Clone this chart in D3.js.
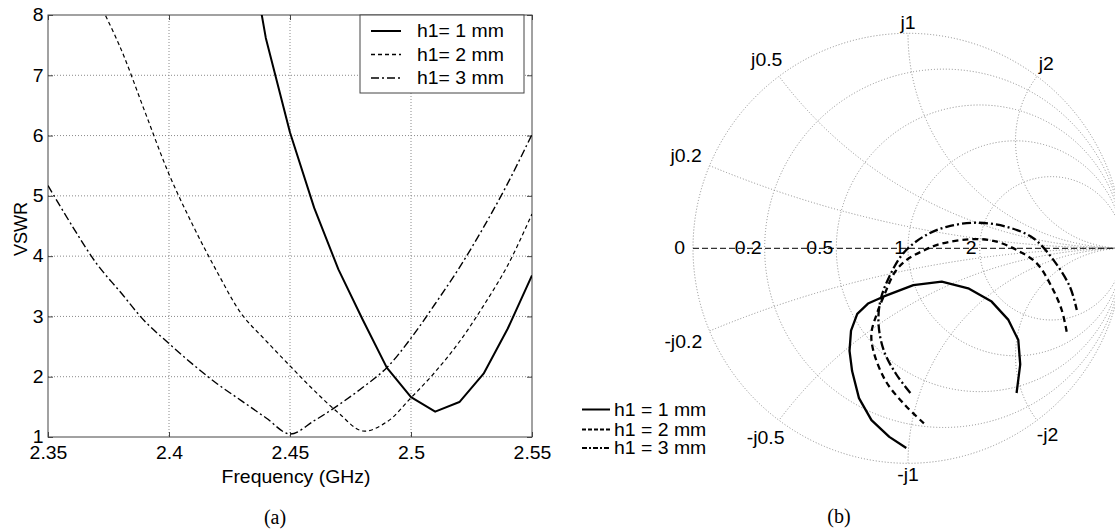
<!DOCTYPE html>
<html><head><meta charset="utf-8">
<script src="https://cdn.jsdelivr.net/npm/d3@7"></script>
<style>
body{margin:0;background:#fff}
svg{display:block}
text{font-family:Arial,"Liberation Sans",Helvetica,sans-serif;fill:#000}
</style>
</head><body>
<svg id="c" width="1115" height="529"></svg>
<script>
// ---------- DATA ----------
const freqH1 = [2.43,2.44,2.45,2.46,2.47,2.48,2.49,2.50,2.51,2.52,2.53,2.54,2.55];
const vswrH1 = [9.9,7.62,6.05,4.8,3.78,2.95,2.15,1.66,1.42,1.58,2.05,2.8,3.68];
const freqH2 = [2.37,2.38,2.39,2.40,2.41,2.42,2.43,2.44,2.45,2.46,2.47,2.48,2.49,2.50,2.51,2.52,2.53,2.54,2.55];
const vswrH2 = [8.3,7.45,6.4,5.36,4.5,3.73,3.04,2.6,2.18,1.77,1.4,1.1,1.25,1.65,2.08,2.58,3.18,3.85,4.70];
const freqH3 = [2.35,2.36,2.37,2.38,2.39,2.40,2.41,2.42,2.43,2.44,2.45,2.46,2.47,2.48,2.49,2.50,2.51,2.52,2.53,2.54,2.55];
const vswrH3 = [5.17,4.5,3.88,3.4,2.92,2.55,2.2,1.88,1.6,1.32,1.05,1.27,1.53,1.82,2.15,2.64,3.21,3.81,4.48,5.21,6.02];

const xTicks = [2.35,2.4,2.45,2.5,2.55];
const yTicks = [1,2,3,4,5,6,7,8];
const legendA = ["h1= 1 mm","h1= 2 mm","h1= 3 mm"];
const legendB = ["h1 = 1 mm","h1 = 2 mm","h1 = 3 mm"];

// reflection coefficient traces (real / imaginary parts)
const gRe1 = [-0.008,-0.087,-0.170,-0.228,-0.260,-0.272,-0.265,-0.236,-0.186,-0.115,0.025,0.157,0.280,0.389,0.467,0.513,0.522,0.505];
const gIm1 = [-0.929,-0.877,-0.799,-0.697,-0.571,-0.477,-0.383,-0.305,-0.257,-0.225,-0.171,-0.155,-0.186,-0.248,-0.333,-0.427,-0.540,-0.673];
const gRe2 = [0.074,-0.014,-0.104,-0.161,-0.170,-0.144,-0.107,-0.060,-0.006,0.071,0.149,0.288,0.397,0.506,0.599,0.668,0.715,0.738];
const gIm2 = [-0.814,-0.729,-0.617,-0.477,-0.394,-0.302,-0.209,-0.109,-0.054,-0.011,0.020,0.042,0.035,-0.008,-0.070,-0.179,-0.287,-0.388];
const gRe3 = [0.011,-0.054,-0.112,-0.137,-0.128,-0.087,-0.022,0.071,0.180,0.320,0.459,0.583,0.676,0.753,0.785];
const gIm3 = [-0.673,-0.587,-0.477,-0.352,-0.242,-0.132,-0.023,0.054,0.100,0.119,0.100,0.047,-0.054,-0.179,-0.287];

const resistanceGrid = [0.2,0.5,1,2];
const reactanceGrid = [0.2,0.5,1,2];
const realAxisLabels = [0,0.2,0.5,1,2];

// ---------- SETUP ----------
const svg = d3.select('#c');
const SX = 1.08, FS = 18;
const styleA = [
  {w:2, dash:null, curve:d3.curveLinear},
  {w:1.2, dash:"4,3", curve:d3.curveCatmullRom},
  {w:1.4, dash:"8,3,2,3", curve:d3.curveCatmullRom}
];
const styleB = [
  {w:2.3, dash:null},
  {w:2.3, dash:"6,4"},
  {w:2.3, dash:"9,3,2,3"}
];

function stext(parent, x, y, s, anchor, opts) {
  opts = opts || {};
  const g = parent.append('g').attr('transform', `translate(${x},${y}) scale(${opts.sx||SX},1)`);
  const t = g.append('text').text(s)
    .attr('text-anchor', anchor || 'start')
    .attr('dominant-baseline', 'central')
    .attr('font-size', opts.fs || FS);
  if (opts.family) t.style('font-family', opts.family);
  return t;
}

// ---------- PANEL (a) ----------
const P = {x0:48, x1:532, y0:15, y1:437};
const x = d3.scaleLinear().domain([2.35,2.55]).range([P.x0,P.x1]);
const y = d3.scaleLinear().domain([1,8]).range([P.y1,P.y0]);
const A = svg.append('g');

A.append('defs').append('clipPath').attr('id','clipA')
  .append('rect').attr('x',P.x0).attr('y',P.y0).attr('width',P.x1-P.x0).attr('height',P.y1-P.y0);

A.append('g').selectAll('line').data(xTicks.slice(1,-1)).join('line')
  .attr('x1',d=>x(d)).attr('x2',d=>x(d)).attr('y1',P.y0).attr('y2',P.y1)
  .attr('stroke','#8a8a8a').attr('stroke-width',1).attr('stroke-dasharray','1,2');
A.append('g').selectAll('line').data(yTicks.slice(1,-1)).join('line')
  .attr('y1',d=>y(d)).attr('y2',d=>y(d)).attr('x1',P.x0).attr('x2',P.x1)
  .attr('stroke','#8a8a8a').attr('stroke-width',1).attr('stroke-dasharray','1,2');

function styleAxis(g, labels) {
  g.attr('font-size',null).attr('font-family',null);
  g.select('.domain').remove();
  g.selectAll('line').attr('stroke','#444');
  if (labels) g.selectAll('text').attr('font-size',FS).attr('transform',`scale(${SX},1)`);
  else g.selectAll('text').remove();
}
styleAxis(A.append('g').attr('transform',`translate(${P.x0},0)`)
  .call(d3.axisLeft(y).tickValues(yTicks).tickFormat(d3.format('d')).tickSizeInner(-5).tickSizeOuter(0).tickPadding(4)), true);
styleAxis(A.append('g').attr('transform',`translate(0,${P.y1})`)
  .call(d3.axisBottom(x).tickValues(xTicks).tickFormat(d=>String(d)).tickSizeInner(-5).tickSizeOuter(0).tickPadding(9)), true);
styleAxis(A.append('g').attr('transform',`translate(${P.x1},0)`)
  .call(d3.axisRight(y).tickValues(yTicks).tickSizeInner(-5).tickSizeOuter(0)), false);
styleAxis(A.append('g').attr('transform',`translate(0,${P.y0})`)
  .call(d3.axisTop(x).tickValues(xTicks).tickSizeInner(-5).tickSizeOuter(0)), false);

A.append('rect').attr('x',P.x0).attr('y',P.y0).attr('width',P.x1-P.x0).attr('height',P.y1-P.y0)
  .attr('fill','none').attr('stroke','#444').attr('stroke-width',1);

const seriesA = [[freqH1,vswrH1],[freqH2,vswrH2],[freqH3,vswrH3]];
const curvesA = A.append('g').attr('clip-path','url(#clipA)');
seriesA.forEach((s,i)=>{
  const pts = s[0].map((f,k)=>[f,s[1][k]]);
  const line = d3.line().x(d=>x(d[0])).y(d=>y(d[1])).curve(styleA[i].curve);
  curvesA.append('path').attr('d', line(pts))
    .attr('fill','none').attr('stroke','#000').attr('stroke-width',styleA[i].w)
    .attr('stroke-dasharray',styleA[i].dash).attr('stroke-linejoin','round');
});

// legend (a)
const LA = {x:360, y:15, w:164, h:78};
A.append('rect').attr('x',LA.x).attr('y',LA.y).attr('width',LA.w).attr('height',LA.h)
  .attr('fill','#fff').attr('stroke','#444').attr('stroke-width',1);
const rowYA = [31, 54.5, 78];
legendA.forEach((name,i)=>{
  A.append('line').attr('x1',371).attr('x2',401).attr('y1',rowYA[i]).attr('y2',rowYA[i])
    .attr('stroke','#000').attr('stroke-width',styleA[i].w===2?2:1.4).attr('stroke-dasharray',styleA[i].dash);
  stext(A, 417, rowYA[i], name, 'start');
});

// axis titles
A.append('text').attr('transform','translate(21,229) rotate(-90)')
  .attr('text-anchor','middle').attr('dominant-baseline','central').attr('font-size',FS).text('VSWR');
stext(A, (P.x0+P.x1)/2+6, 477, 'Frequency (GHz)', 'middle');
stext(A, 275, 517, '(a)', 'middle', {fs:20, sx:1, family:'"Liberation Serif","Times New Roman",serif'});

// ---------- PANEL (b) SMITH ----------
const cx = 908, cy = 248.3, R = 215;
const gx = d3.scaleLinear().domain([-1,1]).range([cx-R,cx+R]);
const gy = d3.scaleLinear().domain([-1,1]).range([cy+R,cy-R]);
const B = svg.append('g');
B.append('defs').append('clipPath').attr('id','clipB')
  .append('circle').attr('cx',cx).attr('cy',cy).attr('r',R);

const gridStyle = sel => sel.attr('fill','none').attr('stroke','#8a8a8a').attr('stroke-width',1).attr('stroke-dasharray','1,2');
const grid = B.append('g').attr('clip-path','url(#clipB)');
grid.selectAll('circle.r').data(resistanceGrid).join('circle').attr('class','r')
  .attr('cx',r=>gx(r/(1+r))).attr('cy',gy(0)).attr('r',r=>gx(1/(1+r))-gx(0)).call(gridStyle);
const reacAll = reactanceGrid.flatMap(v=>[v,-v]);
grid.selectAll('circle.x').data(reacAll).join('circle').attr('class','x')
  .attr('cx',gx(1)).attr('cy',v=>gy(1/v)).attr('r',v=>gx(1/Math.abs(v))-gx(0)).call(gridStyle);
B.append('circle').attr('cx',cx).attr('cy',cy).attr('r',R).call(gridStyle);

// real axis
B.append('line').attr('x1',gx(-1)).attr('x2',gx(1)).attr('y1',gy(0)).attr('y2',gy(0))
  .attr('stroke','#000').attr('stroke-width',1).attr('stroke-dasharray','6,3');

// real axis labels
realAxisLabels.forEach(v=>{
  const g = (v-1)/(v+1);
  stext(B, gx(g) - (v===0 ? 8 : 3), gy(0)-1, String(v), 'end');
});

// reactance labels
reacAll.forEach(v=>{
  const re = (v*v-1)/(v*v+1), im = 2*v/(v*v+1);
  const th = Math.atan2(im, re);
  const label = (v<0?'-j':'j') + Math.abs(v);
  const t = stext(B, 0, 0, label, 'middle');
  const w = t.node().getComputedTextLength()*SX;
  const d = R + 11 + (w/2)*Math.abs(Math.cos(th));
  t.node().parentNode.setAttribute('transform',
    `translate(${cx + d*Math.cos(th)},${cy - d*Math.sin(th)}) scale(${SX},1)`);
});

// traces
const seriesB = [[gRe1,gIm1],[gRe2,gIm2],[gRe3,gIm3]];
const lineB = d3.line().x(d=>gx(d[0])).y(d=>gy(d[1]));
seriesB.forEach((s,i)=>{
  const pts = s[0].map((r,k)=>[r,s[1][k]]);
  B.append('path').attr('d', lineB.curve(i===0?d3.curveLinear:d3.curveCatmullRom)(pts))
    .attr('fill','none').attr('stroke','#000').attr('stroke-width',styleB[i].w)
    .attr('stroke-dasharray',styleB[i].dash).attr('stroke-linejoin','round');
});

// legend (b)
const rowYB = [409.5, 429.5, 448];
legendB.forEach((name,i)=>{
  B.append('line').attr('x1',582).attr('x2',610).attr('y1',rowYB[i]).attr('y2',rowYB[i])
    .attr('stroke','#000').attr('stroke-width',2).attr('stroke-dasharray', i===1?'4,2':(i===2?'5,2,2,2':null));
  stext(B, 614, rowYB[i], name, 'start');
});
stext(B, 839, 516, '(b)', 'middle', {fs:20, sx:1, family:'"Liberation Serif","Times New Roman",serif'});
</script>
</body></html>
